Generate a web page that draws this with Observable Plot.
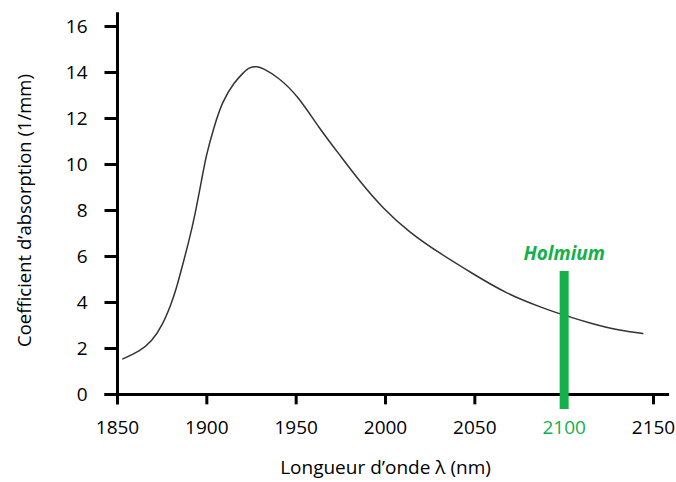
<!DOCTYPE html>
<html>
<head>
<meta charset="utf-8">
<script src="https://cdn.jsdelivr.net/npm/d3@7"></script>
<script src="https://cdn.jsdelivr.net/npm/@observablehq/plot@0.6"></script>
<style>
  body { margin: 0; background: #fff; }
  #chart svg { font-family: "Open Sans", sans-serif; }
</style>
</head>
<body>
<div id="chart"></div>
<script>
// Absorption curve
const wavelength = [1853, 1862, 1869, 1875, 1880, 1883, 1886, 1890, 1893.5, 1897, 1900, 1904, 1909, 1915, 1920, 1924, 1928, 1932, 1940, 1951, 1963, 1975, 1986, 1999, 2014, 2031, 2049, 2068, 2087, 2100, 2115, 2131, 2144];
const absorption = [1.55, 1.9, 2.35, 3.05, 3.95, 4.65, 5.5, 6.7, 7.9, 9.3, 10.45, 11.6, 12.7, 13.5, 13.95, 14.2, 14.25, 14.15, 13.75, 12.9, 11.6, 10.35, 9.25, 8.1, 7.05, 6.12, 5.25, 4.42, 3.8, 3.45, 3.1, 2.8, 2.65];

const xTicks = [1850, 1900, 1950, 2000, 2050, 2100, 2150];
const yTicks = [0, 2, 4, 6, 8, 10, 12, 14, 16];

const holmiumLabel = ["Holmium"];
const holmiumWavelength = [2100];
const holmiumBar = [-0.65, 5.35];

const xAxisExtent = [1843, 2159];
const yAxisExtent = [-0.45, 16.6];

const xTitle = ["Longueur d’onde λ (nm)"];
const yTitle = ["Coefficient d’absorption (1/mm)"];

const green = "#14b04c";
const curve = wavelength.map((w, i) => ({w, a: absorption[i]}));
const isHolmium = d => holmiumWavelength.includes(d);

const chart = Plot.plot({
  width: 676,
  height: 482,
  marginLeft: 117,
  marginRight: 23,
  marginTop: 26,
  marginBottom: 88,
  style: {fontFamily: "Open Sans, sans-serif", background: "#fff", color: "#000"},
  x: {domain: [1850, 2150], axis: null},
  y: {domain: [0, 16], axis: null},
  marks: [
    // y ticks
    Plot.ruleY(yTicks, {y: d => d, x1: xAxisExtent[0], x2: xTicks[0], strokeWidth: 3}),
    // x ticks
    Plot.ruleX(xTicks, {x: d => d, y1: yAxisExtent[0], y2: yTicks[0], strokeWidth: 3}),
    // axis lines
    Plot.ruleX([xTicks[0]], {x: d => d, y1: yAxisExtent[0], y2: yAxisExtent[1], strokeWidth: 3}),
    Plot.ruleY([yTicks[0]], {y: d => d, x1: xAxisExtent[0], x2: xAxisExtent[1], strokeWidth: 3}),
    // tick labels
    Plot.text(yTicks, {x: () => xTicks[0], y: d => d, text: d => String(d), dx: -30, textAnchor: "end", fontSize: 19, fill: "#000"}),
    Plot.text(xTicks.filter(d => !isHolmium(d)), {x: d => d, y: () => yTicks[0], text: d => String(d), dy: 33, fontSize: 19, fill: "#000"}),
    Plot.text(holmiumWavelength, {x: d => d, y: () => yTicks[0], text: d => String(d), dy: 33, fontSize: 19, fill: green}),
    // curve
    Plot.line(curve, {x: "w", y: "a", curve: "natural", stroke: "#333", strokeWidth: 1.5}),
    // Holmium marker
    Plot.ruleX(holmiumWavelength, {x: d => d, y1: holmiumBar[0], y2: holmiumBar[1], stroke: green, strokeWidth: 9}),
    Plot.text(holmiumLabel, {x: () => holmiumWavelength[0], y: () => holmiumBar[1], text: d => d, dy: -11, lineAnchor: "bottom", fill: green, fontSize: 19, fontWeight: "bold", fontStyle: "italic"}),
    // titles
    Plot.text(xTitle, {frameAnchor: "bottom", text: d => d, dy: 79, lineAnchor: "bottom", textAnchor: "middle", fontSize: 19}),
    Plot.text(yTitle, {frameAnchor: "left", text: d => d, rotate: -90, dx: -92, textAnchor: "middle", fontSize: 18.5})
  ]
});
document.getElementById("chart").appendChild(chart);
</script>
</body>
</html>
